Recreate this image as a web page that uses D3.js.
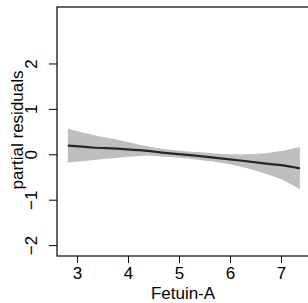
<!DOCTYPE html>
<html>
<head>
<meta charset="utf-8">
<script src="https://cdn.jsdelivr.net/npm/d3@7"></script>
<style>
  html, body { margin: 0; padding: 0; background: #fff; }
  svg { display: block; font-family: 'Liberation Sans', Arial, Helvetica, sans-serif; }
</style>
</head>
<body>
<svg id="chart" width="308" height="303"></svg>
<script>
// Fetuin-A values where the smooth and its band were read
let fetuin = [2.82, 3.3, 3.84, 4.33, 4.82, 5.41, 6.0, 6.59, 7.0, 7.37]
let fit = [0.19, 0.15, 0.12, 0.08, 0.02, -0.04, -0.11, -0.19, -0.24, -0.31]
let upper = [0.56, 0.43, 0.31, 0.19, 0.10, 0.045, 0.0, 0.01, 0.07, 0.16]
let lower = [-0.18, -0.13, -0.07, -0.03, -0.06, -0.125, -0.22, -0.39, -0.55, -0.77]

let xTicks = [3, 4, 5, 6, 7]
let yTicks = [-2, -1, 0, 1, 2]

const margin = { left: 57, top: 7, right: -1, bottom: 47 }
const width = 308
const height = 303

let svg = d3.select('#chart')

let x = d3.scaleLinear()
  .domain([2.608, 7.549])
  .range([margin.left, width - margin.right])

let y = d3.scaleLinear()
  .domain([-2.24, 3.244])
  .range([height - margin.bottom, margin.top])

let rows = fetuin.map((v, i) => ({ x: v, fit: fit[i], lo: lower[i], hi: upper[i] }))

// Confidence band
let band = d3.area()
  .x(d => x(d.x))
  .y0(d => y(d.lo))
  .y1(d => y(d.hi))
  .curve(d3.curveCatmullRom)

svg.append('path')
  .datum(rows)
  .attr('d', band)
  .attr('fill', '#bebebe')

// Smooth
let line = d3.line()
  .x(d => x(d.x))
  .y(d => y(d.fit))
  .curve(d3.curveCatmullRom)

svg.append('path')
  .datum(rows)
  .attr('d', line)
  .attr('fill', 'none')
  .attr('stroke', '#262626')
  .attr('stroke-width', 2.2)

// Frame
svg.append('rect')
  .attr('x', margin.left)
  .attr('y', margin.top)
  .attr('width', x.range()[1] - margin.left)
  .attr('height', y.range()[0] - margin.top)
  .attr('fill', 'none')
  .attr('stroke', '#000')
  .attr('stroke-width', 1.2)

// Axes
let xAxis = svg.append('g')
  .attr('transform', `translate(0,${y.range()[0]})`)
  .call(d3.axisBottom(x).tickValues(xTicks).tickSize(7).tickPadding(4).tickFormat(d3.format('d')))

xAxis.select('.domain').remove()
xAxis.selectAll('line').attr('stroke', '#000')
xAxis.selectAll('text')
  .attr('fill', '#000')
  .style('font-size', '17px')

let yAxis = svg.append('g')
  .attr('transform', `translate(${margin.left},0)`)
  .call(d3.axisLeft(y).tickValues(yTicks).tickSize(8).tickFormat(d3.format('d')))

yAxis.select('.domain').remove()
yAxis.selectAll('line').attr('stroke', '#000')
yAxis.selectAll('text')
  .attr('fill', '#000')
  .attr('x', null)
  .attr('dy', null)
  .attr('text-anchor', 'middle')
  .attr('transform', 'translate(-20,0) rotate(-90)')
  .style('font-size', '17px')

// Axis titles
svg.append('text')
  .attr('x', 183)
  .attr('y', 299)
  .attr('text-anchor', 'middle')
  .style('font-size', '17px')
  .text('Fetuin-A')

svg.append('text')
  .attr('transform', 'translate(22.5,130) rotate(-90)')
  .attr('text-anchor', 'middle')
  .style('font-size', '17px')
  .text('partial residuals')
</script>
</body>
</html>
